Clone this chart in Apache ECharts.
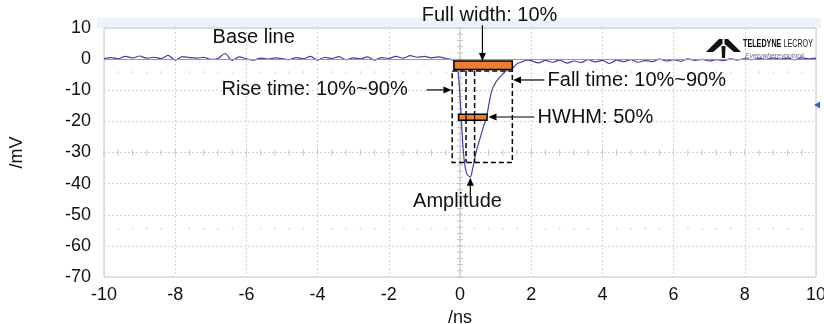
<!DOCTYPE html>
<html>
<head>
<meta charset="utf-8">
<script src="https://cdn.jsdelivr.net/npm/echarts@6/dist/echarts.min.js"></script>
<style>
  html, body { margin: 0; padding: 0; background: #fff; }
  #main { width: 824px; height: 324px; }
</style>
</head>
<body>
<div id="main"></div>
<script>
// scope trace, time in ns, voltage in mV
const timeNs = [
  -10, -9.8, -9.6, -9.4, -9.2, -9.0, -8.8, -8.6, -8.4, -8.2,
  -8.0, -7.8, -7.6, -7.4, -7.2, -7.0, -6.8, -6.6, -6.4, -6.2,
  -6.0, -5.8, -5.6, -5.4, -5.2, -5.0, -4.8, -4.6, -4.4, -4.2,
  -4.0, -3.8, -3.6, -3.4, -3.2, -3.0, -2.8, -2.6, -2.4, -2.2,
  -2.0, -1.8, -1.6, -1.4, -1.2, -1.0, -0.8, -0.6, -0.4, -0.2,
  -0.1, -0.05, 0, 0.05, 0.1, 0.15, 0.2, 0.29, 0.35, 0.45,
  0.55, 0.65, 0.74, 0.82, 0.9, 1.0, 1.1, 1.2, 1.33, 1.47,
  1.6, 1.75, 1.9, 2.0, 2.2, 2.4, 2.6, 2.8, 3.0, 3.2,
  3.4, 3.6, 3.8, 4.0, 4.2, 4.4, 4.6, 4.8, 5.0, 5.2,
  5.4, 5.6, 5.8, 6.0, 6.2, 6.4, 6.6, 6.8, 7.0, 7.2,
  7.4, 7.6, 7.8, 8.0, 8.2, 8.4, 8.6, 8.8, 9.0, 9.2,
  9.4, 9.6, 9.8, 10
];
const voltageMv = [
  0.2, 0.5, 0.1, 0.9, 0.4, 1.0, 0.3, 0.6, 0.2, 1.2,
  -0.3, 0.8, 0.5, 0.3, 0.6, -0.1, 0.2, 1.8, -0.4, 0.7,
  0.1, -0.3, 0.3, 0.0, 0.4, 0.2, -0.2, 0.5, 0.1, 0.9,
  -0.3, 0.6, 0.2, 0.8, -0.2, 0.4, 0.1, 0.7, -0.3, 0.5,
  0.2, 0.9, 0.3, 1.1, 0.6, 0.9, 0.4, 0.7, 0.2, -0.3,
  -1.5, -4.5, -12, -22, -30.5, -35, -37, -37.8, -35.5, -30,
  -26, -22, -18.9, -14, -9.9, -7.5, -6, -4.8, -3.5, -3,
  -1.5, -0.8, -0.3, -0.5, -1.2, -0.4, -1.0, -0.3, -1.3, -0.6,
  -1.1, -0.2, -0.9, -0.4, -1.4, -0.3, -0.8, -0.2, -1.0, -0.5,
  -0.8, 0.0, -0.6, -0.2, -0.7, 0.1, -0.4, -0.1, -0.6, -0.2,
  -0.5, 0.1, -0.3, 0.2, -0.2, 0.3, -0.1, 0.4, 0.0, 0.3,
  -0.2, 0.4, 0.1, 0.3
];

// annotation geometry (data units: ns, mV)
const fullWidthBar = [-0.17, 1.47, -0.6, -3.3];
const hwhmBar = [-0.04, 0.76, -17.7, -19.6];
const hwhmDividers = [0.17, 0.41];
const riseFallBox = [-0.22, 1.47, -3.85, -33.2];

const labels = [
  { text: 'Base line', x: -6.95, y: 7.0, align: 'left' },
  { text: 'Full width: 10%', x: 0.83, y: 14.1, align: 'center' },
  { text: 'Rise time: 10%~90%', x: -1.47, y: -9.6, align: 'right' },
  { text: 'Fall time: 10%~90%', x: 2.46, y: -6.8, align: 'left' },
  { text: 'HWHM: 50%', x: 2.18, y: -18.6, align: 'left' },
  { text: 'Amplitude', x: -0.07, y: -45.8, align: 'center' }
];
// arrows: [fromX, fromY, toX, toY]
const arrows = [
  [0.63, 10.9, 0.63, -0.6],
  [-0.94, -9.9, -0.24, -9.9],
  [2.37, -6.7, 1.49, -6.7],
  [2.09, -18.6, 0.8, -18.6],
  [0.29, -44.2, 0.29, -38.1]
];

// scope graticule: centre cross and faint dot rows
const centreCross = { x: 0, y: -30 };
const dotRowsMv = [-4.2, -54.5];

const FONT = '"Liberation Sans", Arial, sans-serif';

function renderGraticule(params, api) {
  const kids = [];
  const tickStyle = { stroke: '#c4c4c4', lineWidth: 1 };
  for (let v = -70; v <= 10; v += 2) {
    const p = api.coord([centreCross.x, v]);
    kids.push({ type: 'line', shape: { x1: p[0] - 3, y1: p[1], x2: p[0] + 3, y2: p[1] }, style: tickStyle });
  }
  for (let t = -10; t <= 10; t += 0.4) {
    const p = api.coord([t, centreCross.y]);
    kids.push({ type: 'line', shape: { x1: p[0], y1: p[1] - 3, x2: p[0], y2: p[1] + 3 }, style: tickStyle });
  }
  dotRowsMv.forEach(v => {
    for (let t = -9.6; t < 10; t += 0.4) {
      if (Math.abs(t / 2 - Math.round(t / 2)) < 0.01) continue;
      const p = api.coord([t, v]);
      kids.push({ type: 'rect', shape: { x: p[0] - 0.5, y: p[1] - 1, width: 1.2, height: 2 }, style: { fill: '#d2d2d2' } });
    }
  });
  const a = api.coord([centreCross.x, -70]);
  const b = api.coord([centreCross.x, 10]);
  kids.push({ type: 'line', shape: { x1: a[0], y1: a[1], x2: b[0], y2: b[1] }, style: { stroke: '#c4c4c4', lineWidth: 1 } });
  return { type: 'group', children: kids };
}

function renderNotes(params, api) {
  const kids = [];
  const box = (b, style) => {
    const p0 = api.coord([b[0], b[2]]);
    const p1 = api.coord([b[1], b[3]]);
    return {
      type: 'rect',
      shape: { x: p0[0], y: p0[1], width: p1[0] - p0[0], height: p1[1] - p0[1] },
      style: style
    };
  };
  // dashed rise/fall box
  kids.push(box(riseFallBox, { fill: 'none', stroke: '#000', lineWidth: 1.5, lineDash: [5, 3] }));
  hwhmDividers.forEach(x => {
    const a = api.coord([x, riseFallBox[2]]);
    const b = api.coord([x, riseFallBox[3]]);
    kids.push({ type: 'line', shape: { x1: a[0], y1: a[1], x2: b[0], y2: b[1] },
      style: { stroke: '#000', lineWidth: 1.5, lineDash: [5, 3] } });
  });
  // orange bars
  kids.push(box(fullWidthBar, { fill: '#ED7D31', stroke: '#000', lineWidth: 1.5 }));
  kids.push(box(hwhmBar, { fill: '#ED7D31', stroke: '#000', lineWidth: 1.5 }));
  hwhmDividers.forEach(x => {
    const a = api.coord([x, hwhmBar[2]]);
    const b = api.coord([x, hwhmBar[3]]);
    kids.push({ type: 'line', shape: { x1: a[0], y1: a[1], x2: b[0], y2: b[1] },
      style: { stroke: '#000', lineWidth: 1.2 } });
  });
  // arrows
  arrows.forEach(a => {
    const p = api.coord([a[0], a[1]]);
    const q = api.coord([a[2], a[3]]);
    const ang = Math.atan2(q[1] - p[1], q[0] - p[0]);
    const L = 8, W = 3.5;
    const bx = q[0] - L * Math.cos(ang), by = q[1] - L * Math.sin(ang);
    kids.push({ type: 'line', shape: { x1: p[0], y1: p[1], x2: bx, y2: by },
      style: { stroke: '#000', lineWidth: 1.2 } });
    kids.push({ type: 'polygon', shape: { points: [
      [q[0], q[1]],
      [bx - W * Math.sin(ang), by + W * Math.cos(ang)],
      [bx + W * Math.sin(ang), by - W * Math.cos(ang)]
    ] }, style: { fill: '#000' } });
  });
  // texts
  labels.forEach(l => {
    const p = api.coord([l.x, l.y]);
    kids.push({ type: 'text', x: p[0], y: p[1],
      style: { text: l.text, fill: '#111', font: '20px ' + FONT, textAlign: l.align, textVerticalAlign: 'middle' } });
  });
  return { type: 'group', children: kids };
}

const chart = echarts.init(document.getElementById('main'), null, { renderer: 'canvas' });
chart.setOption({
  animation: false,
  backgroundColor: '#fff',
  textStyle: { fontFamily: FONT },
  grid: {
    left: 104, right: 8, top: 28, bottom: 47,
    outerBoundsMode: 'none', containLabel: false,
    show: true, borderColor: '#c8c8c0', borderWidth: 1, backgroundColor: '#fff'
  },
  xAxis: {
    type: 'value', min: -10, max: 10, interval: 2,
    name: '/ns', nameLocation: 'middle', nameGap: 27,
    nameTextStyle: { fontSize: 18, color: '#111', fontFamily: FONT },
    axisLine: { show: false }, axisTick: { show: false },
    axisLabel: { fontSize: 18, color: '#111', margin: 9, fontFamily: FONT },
    splitLine: { lineStyle: { color: '#d4d4d4', type: [2, 2] } }
  },
  yAxis: {
    type: 'value', min: -70, max: 10, interval: 10,
    name: '/mV', nameLocation: 'middle', nameGap: 78, nameRotate: 90,
    nameTextStyle: { fontSize: 18, color: '#111', fontFamily: FONT },
    axisLine: { show: false }, axisTick: { show: false },
    axisLabel: { fontSize: 18, color: '#111', margin: 13, fontFamily: FONT },
    splitLine: { lineStyle: { color: '#d4d4d4', type: [2, 2] } }
  },
  graphic: [
    { type: 'rect', z: -1, shape: { x: 97, y: 18, width: 724, height: 10 }, style: { fill: '#eef2fa' } },
    { type: 'polygon', z: 10, shape: { points: [[719, 39], [722.5, 39], [722.5, 44], [713, 52], [706, 52]] }, style: { fill: '#111' } },
    { type: 'polygon', z: 10, shape: { points: [[724.5, 39], [728, 39], [741, 52], [734, 52], [724.5, 44]] }, style: { fill: '#111' } },
    { type: 'polygon', z: 10, shape: { points: [[721.5, 46], [725.5, 46], [725, 58], [722, 58]] }, style: { fill: '#111' } },
    { type: 'text', z: 10, x: 743, y: 44, scaleX: 0.72,
      style: { text: '{b|TELEDYNE} LECROY', font: '10px ' + FONT, fill: '#222', textVerticalAlign: 'middle',
        rich: { b: { fontWeight: 'bold', fontSize: 10, fill: '#111' } } } },
    { type: 'text', z: 10, x: 745, y: 56, scaleX: 0.85,
      style: { text: 'Everywhereyoulook', font: 'italic 8px ' + FONT, fill: '#6a6a90', textVerticalAlign: 'middle' } },
    { type: 'polygon', z: 10, shape: { points: [[814, 105], [820, 101.5], [820, 108.5]] }, style: { fill: '#3a5fd0' } }
  ],
  series: [
    {
      type: 'custom',
      coordinateSystem: 'cartesian2d',
      z: 1,
      silent: true,
      data: [[0, 0]],
      renderItem: renderGraticule
    },
    {
      type: 'line',
      data: timeNs.map((t, i) => [t, voltageMv[i]]),
      showSymbol: false,
      smooth: 0.3,
      lineStyle: { color: '#4040a8', width: 1.2 },
      z: 3,
      markLine: {
        silent: true, symbol: 'none', label: { show: false },
        lineStyle: { color: '#9a9a9a', type: 'solid', width: 1 },
        data: [{ yAxis: 0 }]
      }
    },
    {
      type: 'custom',
      coordinateSystem: 'cartesian2d',
      clip: false,
      z: 5,
      data: [[0, 0]],
      renderItem: renderNotes
    }
  ]
});
</script>
</body>
</html>
